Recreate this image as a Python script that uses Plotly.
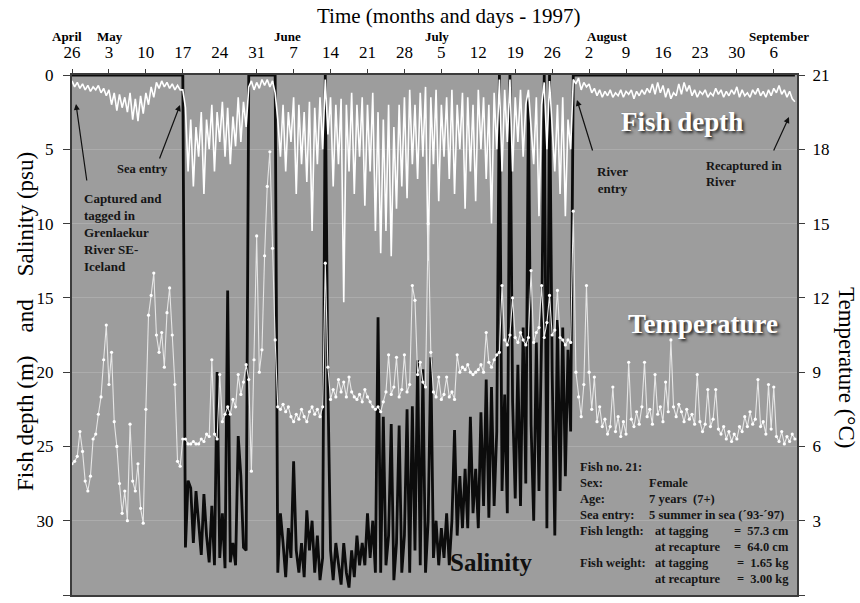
import numpy as np
import plotly.graph_objects as go

# ---------------------------------------------------------------- data
# Logger readings every half day, starting 26 April 1997 (day 0)
STEP_DAYS = 0.5

# Salinity (psu, left axis)
salinity_psu = [
    0, 0, 0, 0, 0, 0, 0, 0, 0, 0,
    0, 0, 0, 0, 0, 0, 0, 0, 0, 0,
    0, 0, 0, 0, 0, 0, 0, 0, 0, 0,
    0, 0, 0, 0, 0, 0, 0, 0, 0, 0,
    0, 0, 0, 31.8, 27.3, 27.8, 31.5, 28.0, 30.5, 32.3,
    28.2, 31.0, 32.8, 29.0, 33.0, 20.0, 32.5, 29.5, 33.2, 14.5,
    32.8, 31.5, 33.0, 24.3, 27.0, 31.8, 32.0, 0, 0, 0,
    0, 0, 0, 0, 0, 0, 0, 0, 33.5, 29.5,
    31.5, 33.8, 30.5, 32.5, 26.0, 32.0, 33.5, 31.5, 33.8, 29.3,
    32.0, 30.0, 33.5, 31.0, 34.0, 32.5, 0.0, 21.0, 32.0, 34.0,
    31.5, 33.0, 34.3, 31.5, 33.5, 34.5, 32.0, 33.8, 31.0, 33.0,
    31.5, 33.0, 29.5, 32.5, 30.0, 33.5, 16.3, 33.5, 23.0, 33.0,
    31.0, 23.5, 34.0, 31.5, 23.6, 33.5, 31.0, 22.5, 33.5, 22.3,
    32.0, 19.2, 33.0, 19.8, 33.5, 30.0, 19.0, 32.5, 30.0, 33.0,
    30.5, 32.5, 29.5, 33.0, 30.0, 23.9, 31.0, 27.0, 30.5, 26.5,
    30.5, 23.0, 29.5, 26.5, 30.5, 22.7, 29.0, 20.5, 29.8, 21.0,
    29.0, 24.0, 0.0, 28.0, 21.5, 29.5, 0.0, 22.0, 28.5, 19.5,
    29.0, 17.0, 27.5, 1.5, 23.5, 30.0, 18.0, 28.0, 17.5, 0.0,
    30.5, 0.0, 20.0, 31.0, 16.5, 28.0, 17.0, 27.0, 18.5, 24.0,
    0, 0, 0, 0, 0, 0, 0, 0, 0, 0,
    0, 0, 0, 0, 0, 0, 0, 0, 0, 0,
    0, 0, 0, 0, 0, 0, 0, 0, 0, 0,
    0, 0, 0, 0, 0, 0, 0, 0, 0, 0,
    0, 0, 0, 0, 0, 0, 0, 0, 0, 0,
    0, 0, 0, 0, 0, 0, 0, 0, 0, 0,
    0, 0, 0, 0, 0, 0, 0, 0, 0, 0,
    0, 0, 0, 0, 0, 0, 0, 0, 0, 0,
    0, 0, 0, 0, 0,
]

# Fish depth (m, left axis)
depth_m = [
    0.4, 0.8, 0.5, 0.9, 0.6, 1.0, 0.7, 1.1, 0.8, 1.0,
    0.7, 1.2, 0.9, 1.4, 1.0, 2.0, 1.2, 2.4, 1.3, 2.2,
    1.5, 2.5, 1.2, 3.0, 1.6, 3.1, 1.4, 2.6, 1.2, 2.0,
    0.8, 1.5, 0.5, 0.9, 0.4, 0.8, 0.5, 0.9, 0.6, 1.0,
    0.7, 1.0, 1.0, 2.2, 6.5, 3.0, 7.5, 3.5, 5.5, 2.5,
    8.0, 3.0, 5.0, 2.0, 6.5, 2.5, 4.5, 1.8, 5.5, 2.2,
    6.0, 2.8, 4.8, 1.5, 4.5, 1.8, 3.5, 0.8, 0.4, 1.0,
    0.5, 0.9, 0.3, 0.7, 0.3, 0.8, 0.4, 1.2, 3.0, 5.5,
    2.0, 6.5, 2.5, 4.5, 1.5, 8.0, 2.0, 6.0, 2.5, 7.2,
    1.8, 10.5, 2.2, 6.0, 1.5, 5.0, 0.3, 4.0, 1.5, 7.5,
    2.0, 6.0, 1.6, 15.3, 2.0, 6.5, 1.2, 8.0, 2.0, 5.5,
    1.5, 8.8, 2.0, 6.5, 1.2, 10.5, 2.5, 12.0, 3.0, 10.5,
    2.0, 12.2, 3.5, 9.0, 2.0, 7.5, 1.5, 8.3, 1.0, 6.0,
    2.0, 7.0, 1.2, 5.5, 0.8, 12.5, 1.5, 6.0, 1.0, 8.5,
    2.0, 5.5, 1.5, 7.0, 1.0, 8.0, 2.0, 5.0, 1.2, 9.0,
    1.5, 6.5, 2.0, 8.5, 1.0, 5.0, 1.5, 7.0, 2.0, 10.0,
    1.2, 5.0, 0.3, 6.5, 1.0, 4.5, 0.3, 6.5, 1.5, 4.5,
    1.0, 5.5, 2.0, 1.0, 3.5, 6.0, 1.5, 9.5, 2.0, 0.5,
    5.0, 0.4, 3.5, 6.5, 2.0, 8.0, 1.5, 9.5, 3.0, 5.0,
    0.3, 0.6, 0.2, 1.0, 0.5, 0.8, 0.6, 1.2, 0.9, 1.4,
    1.0, 1.5, 1.1, 1.4, 1.0, 1.5, 1.2, 1.4, 1.0, 1.5,
    1.1, 1.3, 1.0, 1.6, 1.1, 1.4, 1.0, 1.3, 0.9, 1.2,
    0.6, 1.3, 0.5, 1.2, 0.7, 1.5, 0.9, 1.6, 1.2, 1.4,
    0.6, 1.3, 0.5, 1.1, 0.7, 1.4, 1.0, 1.5, 1.1, 1.3,
    1.0, 1.5, 1.2, 1.4, 0.9, 1.3, 1.0, 1.5, 1.1, 1.4,
    1.0, 1.3, 0.8, 1.5, 1.0, 1.4, 1.2, 1.5, 1.0, 1.3,
    0.9, 1.4, 1.1, 1.5, 1.0, 1.4, 0.9, 1.2, 0.7, 1.3,
    1.0, 1.5, 1.1, 1.6, 1.8,
]

# Temperature (deg C, right axis)
temperature_c = [
    5.3, 5.4, 5.6, 6.6, 5.8, 4.6, 4.2, 4.8, 6.3, 6.5,
    7.3, 8.0, 9.5, 10.9, 8.5, 9.8, 7.0, 6.0, 4.5, 3.3,
    4.2, 3.0, 6.9, 4.6, 4.2, 5.3, 3.5, 2.9, 7.5, 11.3,
    12.1, 13.0, 10.5, 9.8, 10.6, 9.2, 11.4, 12.4, 10.5, 8.5,
    5.4, 5.2, 6.3, 6.3, 6.1, 6.1, 6.2, 6.1, 6.1, 6.3,
    6.2, 6.5, 6.4, 9.5, 6.5, 6.3, 8.9, 7.0, 7.3, 7.6,
    7.3, 7.9, 7.6, 8.9, 8.1, 8.6, 9.3, 8.7, 5.0, 9.5,
    14.5, 9.0, 9.9, 13.7, 16.5, 17.9, 14.0, 10.3, 7.6, 7.5,
    7.7, 7.4, 7.6, 7.2, 7.0, 7.3, 7.1, 7.5, 7.2, 7.0,
    7.4, 7.6, 7.3, 7.5, 7.2, 7.6, 13.4, 9.2, 7.9, 8.3,
    8.0, 8.7, 8.2, 8.6, 8.0, 8.8, 8.2, 8.0, 7.9, 8.1,
    7.8, 8.3, 8.0, 7.8, 7.6, 7.5, 7.6, 7.4, 7.8, 8.2,
    9.7, 8.1, 8.4, 9.6, 8.0, 8.3, 9.7, 8.2, 8.5, 12.5,
    11.9, 8.9, 9.4, 8.6, 8.4, 15.0, 9.8, 8.2, 8.0, 8.8,
    7.9, 8.1, 8.8, 8.0, 8.2, 7.9, 9.7, 9.0, 9.2, 9.1,
    9.3, 9.0, 8.9, 9.0, 9.1, 9.3, 9.0, 10.6, 9.4, 9.2,
    9.5, 9.7, 9.8, 12.5, 10.3, 10.1, 10.5, 12.0, 10.4, 10.2,
    10.6, 10.3, 10.1, 10.4, 13.1, 10.2, 10.6, 10.8, 12.5, 10.4,
    11.0, 12.1, 10.5, 10.7, 12.3, 10.4, 10.3, 10.1, 10.3, 10.2,
    15.5, 9.0, 8.0, 7.2, 8.5, 12.5, 9.0, 7.5, 8.8, 7.0,
    7.6, 6.8, 7.1, 6.5, 6.8, 8.4, 6.6, 7.2, 6.4, 7.0,
    6.5, 9.4, 7.1, 6.8, 7.4, 6.9, 7.6, 9.4, 7.2, 7.5,
    6.9, 8.9, 7.3, 7.6, 7.0, 8.6, 7.4, 10.3, 7.6, 7.2,
    7.7, 7.4, 7.0, 7.5, 7.1, 7.3, 6.9, 8.9, 7.0, 6.6,
    6.9, 8.3, 6.8, 7.1, 8.3, 6.7, 6.5, 6.8, 6.3, 6.6,
    6.2, 6.5, 6.3, 6.8, 6.6, 7.2, 6.8, 7.4, 6.9, 7.1,
    8.7, 6.8, 7.0, 6.5, 8.5, 6.7, 8.4, 6.4, 6.2, 6.6,
    6.1, 6.4, 6.2, 6.5, 6.3,
]

# Top time axis: days after 26 April and their labels
tick_days = [0, 7, 14, 21, 28, 35, 42, 49, 56, 63, 70, 77, 84, 91, 98, 105, 112, 119, 126, 133]
tick_labels = ["26", "3", "10", "17", "24", "31", "7", "14", "21", "28",
               "5", "12", "19", "26", "2", "9", "16", "23", "30", "6"]
month_names = ["April", "May", "June", "July", "August", "September"]

depth_ticks = [0, 5, 10, 15, 20, 25, 30, 35]
temp_ticks = [0, 3, 6, 9, 12, 15, 18, 21]

info_labels = ["Fish no. 21:", "Sex:", "Age:", "Sea entry:", "Fish length:", "", "Fish weight:", ""]
info_values = ["", "Female", "7 years  (7+)", "5 summer in sea (\u00b493-\u00b497)", "", "", "", ""]
info_stage = ["", "", "", "", "at tagging", "at recapture", "at tagging", "at recapture"]
info_measure = ["", "", "", "", "=  57.3 cm", "=  64.0 cm", "=  1.65 kg", "=  3.00 kg"]

# ---------------------------------------------------------------- figure
n = len(salinity_psu)
assert n == len(depth_m) == len(temperature_c), (n, len(depth_m), len(temperature_c))
day = np.arange(n) * STEP_DAYS

SERIF = "Liberation Serif"
fig = go.Figure()
fig.add_trace(go.Scatter(x=day, y=salinity_psu, mode="lines", yaxis="y",
                         line=dict(color="#0c0c0c", width=2.8), hoverinfo="skip"))
fig.add_trace(go.Scatter(x=day, y=depth_m, mode="lines", yaxis="y",
                         line=dict(color="#ffffff", width=1.6), hoverinfo="skip"))
fig.add_trace(go.Scatter(x=day, y=temperature_c, mode="lines+markers", yaxis="y2",
                         line=dict(color="#e6e6e6", width=1.1),
                         marker=dict(size=3.2, color="#ffffff"), hoverinfo="skip"))

# plot area in pixels: x 72..797, y 75..595
X0, X1, Y0, Y1 = 72, 797, 75, 595
XMAX = 137.4
def dx(px):
    return (px - X0) / (X1 - X0) * XMAX
def dy(py):
    return (py - Y0) / (Y1 - Y0) * 35
def ppx(px):
    return (px - X0) / (X1 - X0)
def ppy(py):
    return (Y1 - py) / (Y1 - Y0)

def paper_text(text, px, py, size, angle=0):
    return dict(text=text, x=ppx(px), y=ppy(py), xref="paper", yref="paper",
                xanchor="center", yanchor="middle", textangle=angle,
                showarrow=False, font=dict(size=size, family=SERIF, color="black"))

ann = []
ann.append(paper_text("Time (months and days - 1997)", 448, 16, 21))
month_px = [67, 110, 287, 437, 607, 779]
for name, px in zip(month_names, month_px):
    ann.append(paper_text("<b>%s</b>" % name, px, 36, 13))
nb = "\u00a0"
ann.append(paper_text("Fish depth (m)" + nb * 4 + "and" + nb * 4 + "Salinity (psu)", 25, 322, 23, -90))
ann.append(paper_text("Temperature (\u00b0C)", 847, 368, 23, 90))

# in-plot labels
shadow = "2px 2px 3px rgba(0,0,0,0.75)"
def data_text(text, px, py, size, color="#151515", xanchor="center", yanchor="middle", align="center", shadow_=None):
    f = dict(size=size, family=SERIF, color=color)
    if shadow_:
        f["shadow"] = shadow_
    return dict(text=text, x=dx(px), y=dy(py), xref="x", yref="y", xanchor=xanchor, yanchor=yanchor,
                align=align, showarrow=False, font=f)

ann.append(data_text("<b>Fish depth</b>", 682, 122, 27, "white", shadow_=shadow))
ann.append(data_text("<b>Temperature</b>", 703, 324, 27, "white", shadow_=shadow))
ann.append(data_text("<b>Salinity</b>", 491, 562, 25, "#111"))
ann.append(data_text("<b>Sea entry</b>", 142, 169, 12.5))
ann.append(data_text("<b>Captured and<br>tagged in<br>Grenlaekur<br>River SE-<br>Iceland</b>",
                     82, 189, 13, xanchor="left", yanchor="top", align="left"))
ann.append(data_text("<b>River<br>entry</b>", 612, 180, 13))
ann.append(data_text("<b>Recaptured in<br>River</b>", 704, 157, 12.5, xanchor="left", yanchor="top", align="left"))

# arrows (head, tail) in pixels
arrows = [((76, 104), (87, 182)), ((180, 105), (159, 160)), ((577, 100), (593, 152)), ((789, 117), (773, 152))]
for (hx, hy), (tx, ty) in arrows:
    ann.append(dict(text="", x=dx(hx), y=dy(hy), xref="x", yref="y", showarrow=True,
                    ax=tx - hx, ay=ty - hy, arrowhead=2, arrowsize=1, arrowwidth=1.2, arrowcolor="#111"))

# info block
rows_py = [467, 483, 499, 515, 531, 547, 563, 579]
for i, py in enumerate(rows_py):
    for txt, px, anchor in ((info_labels[i], 578, "left"), (info_values[i], 647, "left"),
                            (info_stage[i], 653, "left"), (info_measure[i], 791, "right")):
        if txt:
            ann.append(data_text("<b>%s</b>" % txt, px, py, 12.5, xanchor=anchor))

axis_line = "#3c3c3c"
fig.update_layout(
    width=860, height=603,
    margin=dict(l=X0, r=860 - X1, t=Y0, b=603 - Y1, autoexpand=False),
    paper_bgcolor="white", plot_bgcolor="#9d9d9d",
    showlegend=False,
    font=dict(family=SERIF, color="black"),
    annotations=ann,
    xaxis=dict(range=[0, XMAX], side="top", tickmode="array", tickvals=tick_days, ticktext=tick_labels,
               ticks="outside", ticklen=4, tickwidth=1, tickcolor=axis_line,
               showline=True, linecolor=axis_line, linewidth=2, mirror=True,
               showgrid=False, zeroline=False, tickfont=dict(size=17, family=SERIF),
               ticklabelstandoff=4),
    yaxis=dict(range=[35, 0], tickmode="array", tickvals=depth_ticks,
               ticks="outside", ticklen=7, tickwidth=1, tickcolor=axis_line,
               showline=True, linecolor=axis_line, linewidth=2, mirror=True,
               showgrid=True, gridcolor="#acacac", gridwidth=1, zeroline=False,
               tickfont=dict(size=17, family=SERIF), ticklabelstandoff=6),
    yaxis2=dict(range=[0, 21], overlaying="y", side="right", tickmode="array", tickvals=temp_ticks,
                ticks="outside", ticklen=6, tickwidth=1, tickcolor=axis_line,
                showline=True, linecolor=axis_line, linewidth=2,
                showgrid=False, zeroline=False,
                tickfont=dict(size=17, family=SERIF), ticklabelstandoff=4),
)

fig.write_html("out.html")
